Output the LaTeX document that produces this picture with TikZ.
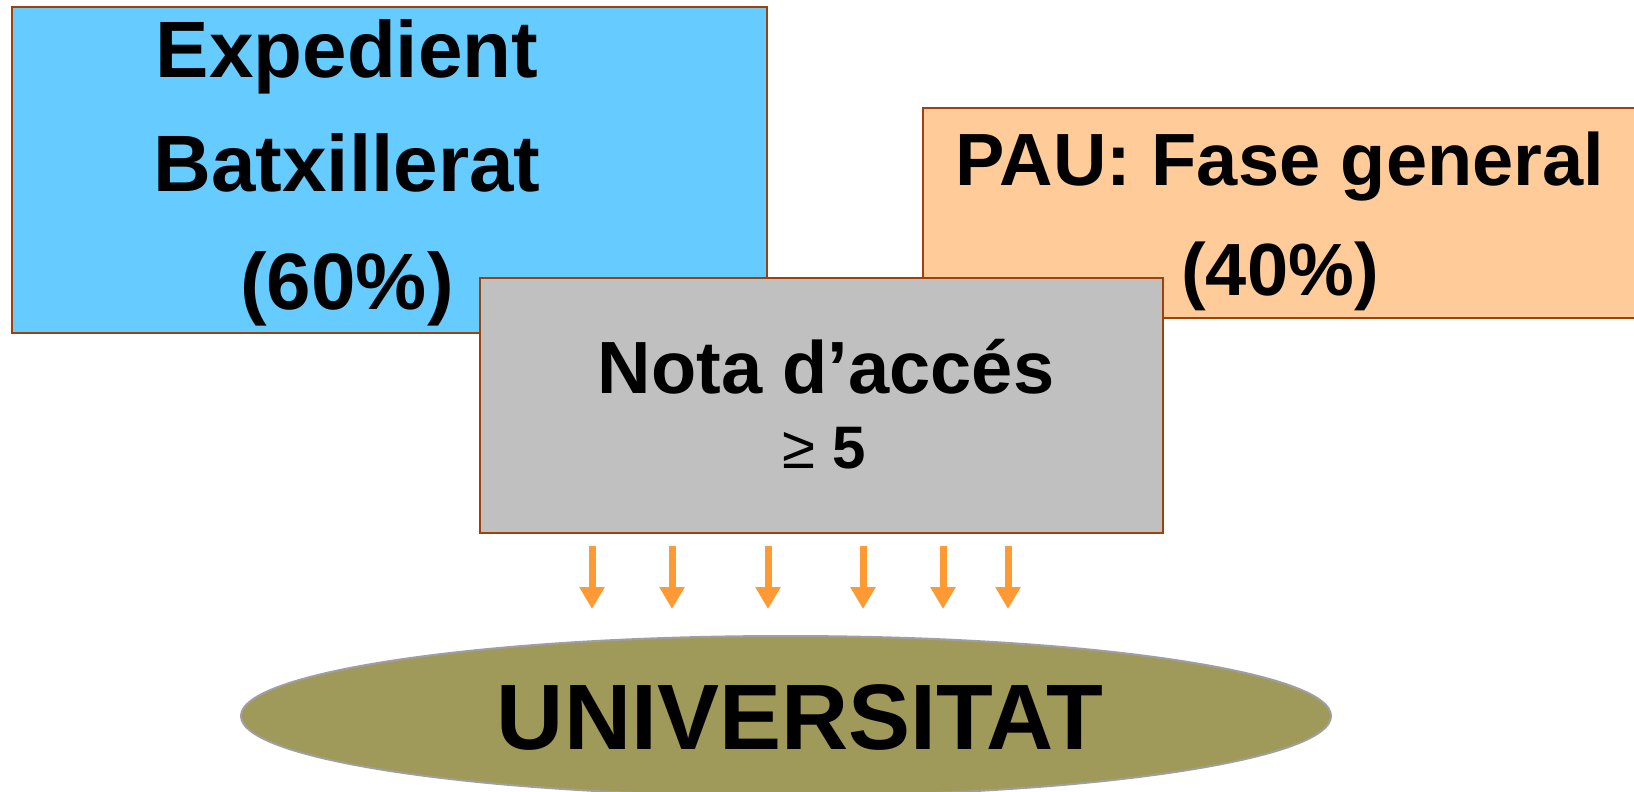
\documentclass[tikz,border=0pt]{standalone}
\usepackage{fontspec}
\setmainfont{Liberation Sans}
\usetikzlibrary{arrows.meta}
\definecolor{boxblue}{HTML}{66CCFF}
\definecolor{boxorange}{HTML}{FFCC99}
\definecolor{boxgray}{HTML}{C0C0C0}
\definecolor{boxolive}{HTML}{9F995A}
\definecolor{boxedge}{HTML}{A0400A}
\definecolor{arroworange}{HTML}{FF9933}
\tikzset{
  panel/.style={draw=boxedge, line width=2bp},
  lbl/.style={anchor=base, inner sep=0pt, font=\bfseries},
  downarrow/.style={draw=arroworange, line width=7bp, -{Triangle[width=24bp,length=22bp]}},
}
\begin{document}
\begin{tikzpicture}[x=1bp,y=-1bp]
\useasboundingbox (0,0) rectangle (1634,792);
\begin{scope}
\clip (0,0) rectangle (1634,792);
% blue box
\path[panel, fill=boxblue] (12,7) rectangle (767,333);
% orange box
\path[panel, fill=boxorange] (923,108) rectangle (1660,318);
% gray box
\path[panel, fill=boxgray] (480,278) rectangle (1163,533);
% ellipse
\draw[draw=gray!75, line width=2bp, fill=boxolive] (786,716) ellipse [x radius=545, y radius=80];
\end{scope}

\node[lbl, font=\bfseries\fontsize{80bp}{96bp}\selectfont] (e1) at (347,78) {Expedient};
\node[lbl, font=\bfseries\fontsize{80bp}{96bp}\selectfont] (e2) at (347,191) {Batxillerat};
\node[lbl, font=\bfseries\fontsize{80bp}{96bp}\selectfont] (e3) at (347,309) {(60\%)};

\node[lbl, font=\bfseries\fontsize{74bp}{88bp}\selectfont] (p1) at (1280,185) {PAU: Fase general};
\node[lbl, font=\bfseries\fontsize{74bp}{88bp}\selectfont] (p2) at (1280,295) {(40\%)};

\node[lbl, font=\bfseries\fontsize{74bp}{88bp}\selectfont] (n1) at (826,393) {Nota d’accés};
\node[lbl, font=\fontsize{60bp}{72bp}\selectfont] (n2) at (824,468) {≥ \textbf{5}};

\node[lbl, font=\bfseries\fontsize{93bp}{110bp}\selectfont] (u) at (800,749) {UNIVERSITAT};

\foreach \i/\x in {1/592,2/672,3/768,4/863,5/943,6/1008}{
  \coordinate (s\i) at (\x,546);
  \coordinate (t\i) at (\x,609);
  \draw[downarrow] (s\i) -- (t\i);
}
\end{tikzpicture}
\end{document}
